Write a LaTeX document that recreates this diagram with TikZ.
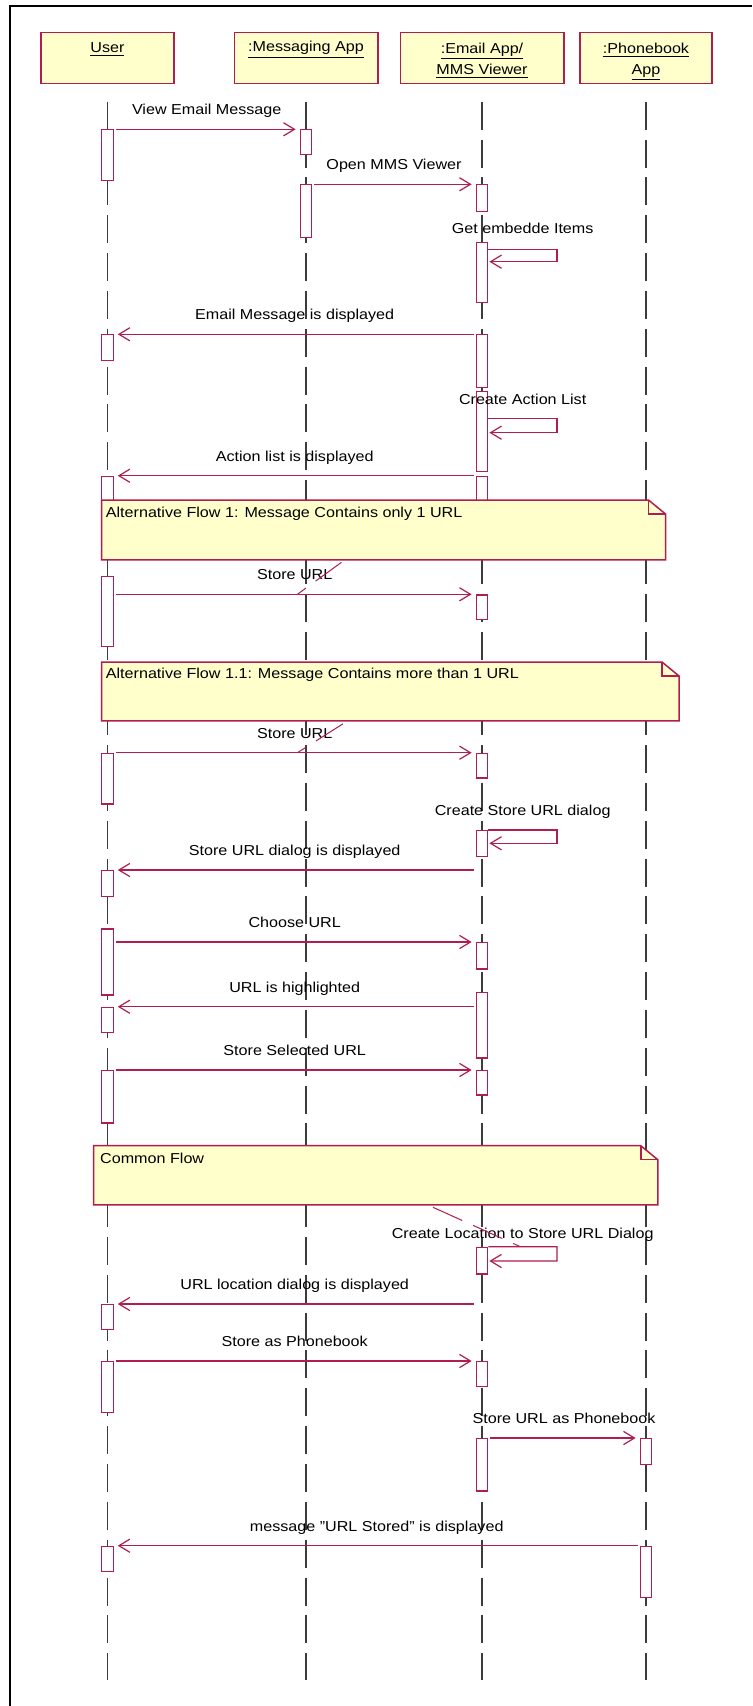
\documentclass[tikz,border=0pt]{standalone}
\usepackage{fontspec}
\setmainfont[FakeStretch=1.12]{Liberation Sans}
\usetikzlibrary{arrows.meta,calc}
\definecolor{rose}{HTML}{B01E4F}
\definecolor{noteyellow}{HTML}{FFFFCC}
\definecolor{lifegray}{HTML}{3C3C3C}
\newcommand\msgfont{\fontsize{7.2}{9}\selectfont}
\tikzset{
  frameline/.style={draw=black, line width=1pt},
  objbox/.style={draw=rose, fill=noteyellow, line width=0.75pt, inner sep=0pt, minimum height=25.5pt},
  objlabel/.style={font=\fontsize{7.2}{10.5}\selectfont, align=center, anchor=north, inner sep=0pt},
  lifeline/.style={draw=lifegray, line width=0.65pt, dash pattern=on 14pt off 4.92pt},
  actbox/.style={draw=rose, fill=white, line width=0.6pt, inner sep=0pt, minimum width=5.75pt, anchor=north},
  msg/.style={draw=rose, line width=0.6pt, -{Straight Barb[length=5.5pt,width=6.6pt]}, shorten >=2pt, shorten <=1pt},
  selfmsg/.style={draw=rose, line width=0.6pt, -{Straight Barb[length=5.5pt,width=6.6pt]}, shorten >=0.5pt},
  msglbl/.style={midway, anchor=base, yshift=7.2pt, font=\msgfont, inner sep=0pt, text=black},
  notebox/.style={inner sep=0pt, anchor=north west},
  notefill/.style={draw=rose, fill=noteyellow, line width=0.75pt, line join=miter},
  notetext/.style={font=\msgfont, anchor=west, inner sep=0pt},
  notelink/.style={draw=rose, line width=0.5pt, dash pattern=on 16pt off 6pt},
}
\newcommand\actv[4]{\pgfmathsetmacro\acth{(#4-#3)*0.5}\node[actbox, minimum height=\acth pt] (#1) at (#2,#3) {};}
\newcommand\umlnote[5]{\pgfmathsetmacro\notew{(#4-#2)*0.5}\pgfmathsetmacro\noteh{(#5-#3)*0.5}%
  \node[notebox, minimum width=\notew pt, minimum height=\noteh pt] (#1) at (#2,#3) {};%
  \draw[notefill] (#1.north west) -- ($(#1.north east)+(-17,0)$) -- ($(#1.north east)+(0,14)$) -- (#1.south east) -- (#1.south west) -- cycle;%
  \draw[notefill, fill=none] ($(#1.north east)+(-17,0)$) |- ($(#1.north east)+(0,14)$);}
\begin{document}
\begin{tikzpicture}[x=0.5pt,y=-0.5pt]
\useasboundingbox (0,0) rectangle (752,1706);
\fill[white] (0,0) rectangle (752,1706);
\draw[frameline] (10,1706) -- (10,6) -- (752,6);

% object boxes
\node[objbox, minimum width=66.65pt] (uBox) at (107.4,57.8) {};
\node[objbox, minimum width=71.75pt] (mBox) at (306,57.8) {};
\node[objbox, minimum width=81.75pt] (eBox) at (482,57.8) {};
\node[objbox, minimum width=66pt] (pBox) at (646,57.8) {};
\node[objlabel] (uLbl) at ($(uBox.north)+(0,10.7)$) {\underline{User}};
\node[objlabel] (mLbl) at ($(mBox.north)+(0,9.4)$) {\underline{:Messaging App}};
\node[objlabel] (eLbl) at ($(eBox.north)+(0,10.7)$) {\underline{:Email App/}\\\underline{MMS Viewer}};
\node[objlabel] (pLbl) at ($(pBox.north)+(0,10.7)$) {\underline{:Phonebook}\\\underline{App}};

% lifelines
\coordinate (uEnd) at (107.4,1680);
\coordinate (mEnd) at (306,1680);
\coordinate (eEnd) at (482,1680);
\coordinate (pEnd) at (646,1680);
\draw[lifeline] ($(uBox.south)+(0,17.7)$) -- (uEnd);
\draw[lifeline] ($(mBox.south)+(0,17.7)$) -- (mEnd);
\draw[lifeline] ($(eBox.south)+(0,17.7)$) -- (eEnd);
\draw[lifeline] ($(pBox.south)+(0,17.7)$) -- (pEnd);

% activations
\actv{u1}{107.4}{129.3}{180}
\actv{u2}{107.4}{334.3}{360}
\actv{u3}{107.4}{475.7}{506}
\actv{u4}{107.4}{576}{646}
\actv{u5}{107.4}{752.7}{803.3}
\actv{u6}{107.4}{870}{896}
\actv{u7}{107.4}{928.3}{994.3}
\actv{u8}{107.4}{1006.7}{1031.7}
\actv{u9}{107.4}{1070}{1122.3}
\actv{u10}{107.4}{1304}{1329}
\actv{u11}{107.4}{1361}{1411.7}
\actv{u12}{107.4}{1545.7}{1570.7}
\actv{m1}{306}{129.3}{154}
\actv{m2}{306}{184.3}{237.3}
\actv{e1}{482}{184.3}{211}
\actv{e2}{482}{241.7}{301.7}
\actv{e3}{482}{334.3}{386.7}
\actv{e4}{482}{391}{471}
\actv{e5}{482}{475.7}{506}
\actv{e6}{482}{594.3}{618.7}
\actv{e7}{482}{752.7}{777.3}
\actv{e8}{482}{830}{856}
\actv{e9}{482}{942}{968.3}
\actv{e10}{482}{991.7}{1057.3}
\actv{e11}{482}{1070}{1094.3}
\actv{e12}{482}{1246.7}{1273.3}
\actv{e13}{482}{1361}{1385.7}
\actv{e14}{482}{1438}{1490.3}
\actv{p1}{646}{1438}{1464}
\actv{p2}{646}{1545.7}{1596.7}

% messages
\draw[msg] (u1.north east) -- (m1.north west) node[msglbl] {View Email Message};
\draw[msg] (m2.north east) -- (e1.north west) node[msglbl] {Open MMS Viewer};
\draw[selfmsg] (e2.east |- 0,249.3) -- ++(68.6,0) node[msglbl, yshift=0.8pt] {Get embedde Items} -- ++(0,12.4) -- (e2.east |- 0,261.7);
\draw[msg] (e3.north west) -- (u2.north east) node[msglbl] {Email Message is displayed};
\draw[selfmsg] (e4.east |- 0,418.7) -- ++(68.6,0) node[msglbl, yshift=0.15pt] {Create Action List} -- ++(0,14) -- (e4.east |- 0,432.7);
\draw[msg] (e5.north west) -- (u3.north east) node[msglbl] {Action list is displayed};
\draw[msg] (u4.east |- e6.north) -- (e6.north west) node[msglbl] {Store URL};
\draw[msg] (u5.north east) -- (e7.north west) node[msglbl] {Store URL};
\draw[selfmsg] (e8.north east) -- ++(68.6,0) node[msglbl] {Create Store URL dialog} -- ++(0,13.3) -- (e8.east |- 0,843.3);
\draw[msg] (e8.west |- u6.north) -- (u6.north east) node[msglbl] {Store URL dialog is displayed};
\draw[msg] (u7.east |- e9.north) -- (e9.north west) node[msglbl] {Choose URL};
\draw[msg] (e10.west |- u8.north) -- (u8.north east) node[msglbl] {URL is highlighted};
\draw[msg] (u9.north east) -- (e11.north west) node[msglbl] {Store Selected URL};
\draw[selfmsg] (e12.north east) -- ++(68.6,0) node[msglbl, yshift=-3pt] {Create Location to Store URL Dialog} -- ++(0,14.3) -- (e12.east |- 0,1261);
\draw[msg] (e12.west |- u10.north) -- (u10.north east) node[msglbl] {URL location dialog is displayed};
\draw[msg] (u11.north east) -- (e13.north west) node[msglbl] {Store as Phonebook};
\draw[msg] (e14.north east) -- (p1.north west) node[msglbl] {Store URL as Phonebook};
\draw[msg] (p2.north west) -- (u12.north east) node[msglbl] {message "URL Stored" is displayed};

% notes
\umlnote{n1}{101.7}{500}{664.7}{559}
\node[notetext] (n1txt) at ($(n1.north west)+(3.8,13.3)$) {Alternative Flow 1: Message Contains only 1 URL};
\umlnote{n2}{101.7}{662}{678.2}{720}
\node[notetext] (n2txt) at ($(n2.north west)+(3.8,12.3)$) {Alternative Flow 1.1: Message Contains more than 1 URL};
\umlnote{n3}{93.5}{1145.7}{657}{1204}
\node[notetext] (n3txt) at ($(n3.north west)+(6.3,12.6)$) {Common Flow};

% note links
\coordinate (n1tail) at (297.4,594.3);
\coordinate (n2tail) at (297.4,752.7);
\coordinate (n3tail) at (520.4,1246.7);
\draw[notelink] ($(n1.south -| 341.5,0)+(0,2.5)$) -- (n1tail);
\draw[notelink] ($(n2.south -| 343,0)+(0,3)$) -- (n2tail);
\draw[notelink] ($(n3.south -| 433,0)+(0,2.5)$) -- (n3tail);
\end{tikzpicture}
\end{document}
